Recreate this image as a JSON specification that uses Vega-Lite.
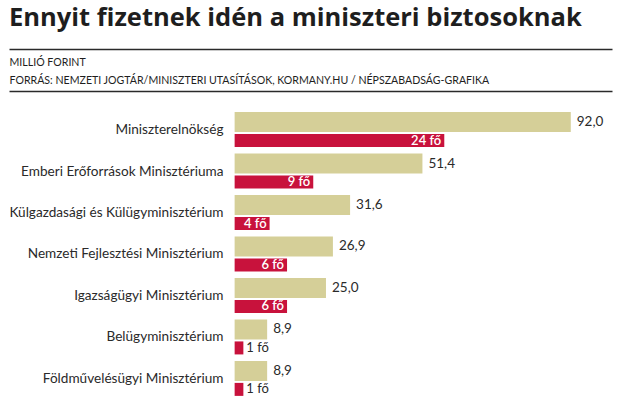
{
  "$schema": "https://vega.github.io/schema/vega-lite/v6.json",
  "autosize": {"type": "fit", "contains": "padding"},
  "width": 625,
  "height": 408,
  "padding": {"left": 8, "right": 13, "top": 5, "bottom": 8},
  "background": "white",
  "title": {
    "text": "Ennyit fizetnek idén a miniszteri biztosoknak",
    "anchor": "start",
    "frame": "group",
    "font": "Open Sans",
    "fontSize": 25.5,
    "fontWeight": 700,
    "color": "#1e1e1e",
    "offset": 18
  },
  "data": {
    "values": [
      {"min": "Miniszterelnökség", "mft": 92.0, "fo": 24, "foLabel": "24 fő"},
      {"min": "Emberi Erőforrások Minisztériuma", "mft": 51.4, "fo": 9, "foLabel": "9 fő"},
      {"min": "Külgazdasági és Külügyminisztérium", "mft": 31.6, "fo": 4, "foLabel": "4 fő"},
      {"min": "Nemzeti Fejlesztési Minisztérium", "mft": 26.9, "fo": 6, "foLabel": "6 fő"},
      {"min": "Igazságügyi Minisztérium", "mft": 25.0, "fo": 6, "foLabel": "6 fő"},
      {"min": "Belügyminisztérium", "mft": 8.9, "fo": 1, "foLabel": "1 fő"},
      {"min": "Földművelésügyi Minisztérium", "mft": 8.9, "fo": 1, "foLabel": "1 fő"}
    ]
  },
  "encoding": {
    "y": {
      "field": "min",
      "type": "nominal",
      "sort": null,
      "scale": {"paddingInner": 0, "paddingOuter": 0.226, "align": 0.98},
      "axis": {
        "title": null,
        "orient": "left",
        "offset": -214,
        "ticks": false,
        "domain": false,
        "labelPadding": 0,
        "labelFont": "Lato",
        "labelFontSize": 13.6,
        "labelColor": "#2a2a2a",
        "labelLimit": 400
      }
    }
  },
  "layer": [
    {
      "encoding": {
        "x": {
          "field": "mft",
          "type": "quantitative",
          "scale": {"domain": [-61.75, 103.28], "nice": false, "zero": false},
          "axis": {
            "orient": "top",
            "labels": false,
            "ticks": false,
            "grid": false,
            "domain": true,
            "domainColor": "#2a2a2a",
            "domainWidth": 1.5,
            "title": ["MILLIÓ FORINT", "FORRÁS: NEMZETI JOGTÁR/MINISZTERI UTASÍTÁSOK, KORMANY.HU / NÉPSZABADSÁG-GRAFIKA"],
            "titleAnchor": "start",
            "titleAlign": "left",
            "titleFont": "Lato",
            "titleFontSize": 10.6,
            "titleFontWeight": "normal",
            "titleColor": "#1e1e1e",
            "titleLineHeight": 18,
            "titlePadding": 6
          }
        }
      },
      "layer": [
        {
          "mark": {"type": "bar", "color": "#d5cf98", "height": 20, "yOffset": -8},
          "encoding": {"x2": {"datum": 0}}
        },
        {
          "mark": {"type": "text", "align": "left", "baseline": "middle", "dx": 6, "yOffset": -8, "font": "Lato", "fontSize": 13.5, "color": "#2a2a2a"},
          "encoding": {"text": {"field": "mft", "type": "quantitative", "format": ".1f"}}
        }
      ]
    },
    {
      "encoding": {
        "x": {
          "field": "fo",
          "type": "quantitative",
          "scale": {"domain": [-25.83, 43.2], "nice": false, "zero": false},
          "axis": {
            "orient": "top",
            "offset": 42,
            "labels": false,
            "ticks": false,
            "grid": false,
            "domain": true,
            "domainColor": "#2a2a2a",
            "domainWidth": 1.5,
            "title": null
          }
        }
      },
      "layer": [
        {
          "mark": {"type": "bar", "color": "#c8123c", "height": 13, "yOffset": 10.5},
          "encoding": {"x2": {"datum": 0}}
        },
        {
          "transform": [{"filter": "datum.fo > 2"}],
          "mark": {"type": "text", "align": "right", "baseline": "middle", "dx": -3, "yOffset": 10.5, "font": "Lato", "fontSize": 13, "fontWeight": 600, "color": "white"},
          "encoding": {"text": {"field": "foLabel", "type": "nominal"}}
        },
        {
          "transform": [{"filter": "datum.fo <= 2"}],
          "mark": {"type": "text", "align": "left", "baseline": "middle", "dx": 3, "yOffset": 10.5, "font": "Lato", "fontSize": 13, "color": "#2a2a2a"},
          "encoding": {"text": {"field": "foLabel", "type": "nominal"}}
        }
      ]
    }
  ],
  "resolve": {"scale": {"x": "independent"}, "axis": {"x": "independent"}},
  "config": {
    "view": {"stroke": null},
    "locale": {"number": {"decimal": ",", "thousands": " ", "grouping": [3], "currency": ["", " Ft"]}}
  }
}
